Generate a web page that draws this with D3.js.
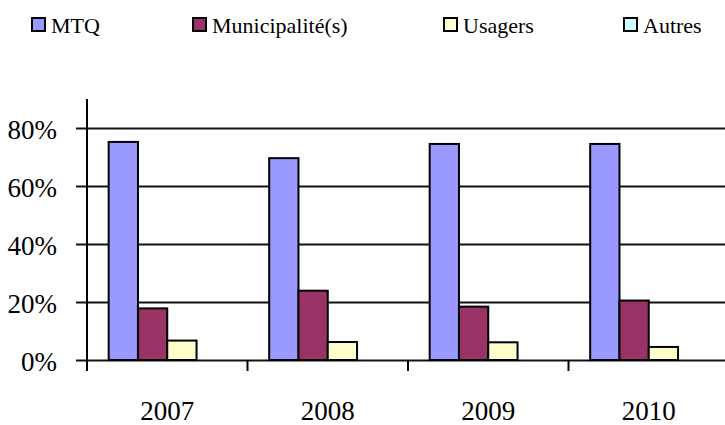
<!DOCTYPE html>
<html>
<head>
<meta charset="utf-8">
<script src="https://cdn.jsdelivr.net/npm/d3@7"></script>
<style>
  html, body { margin: 0; padding: 0; background: #fff; }
  svg { display: block; }
  svg text { font-family: "Liberation Serif", "Times New Roman", serif !important; }
</style>
</head>
<body>
<svg id="chart" width="725" height="425"></svg>
<script>
// Répartition du financement par année
const years = ["2007", "2008", "2009", "2010"];
const seriesNames = ["MTQ", "Municipalité(s)", "Usagers", "Autres"];
const seriesColors = ["#9999FF", "#993366", "#FFFFCC", "#CCFFFF"];
const mtq = [0.752, 0.696, 0.745, 0.745];
const municipalites = [0.178, 0.239, 0.184, 0.205];
const usagers = [0.067, 0.062, 0.061, 0.045];
const autres = [0, 0, 0, 0];
const yTicks = [0, 0.2, 0.4, 0.6, 0.8];
const legendX = [32, 193, 444, 624];

const serif = "'Liberation Serif', 'Times New Roman', serif";
const seriesValues = [mtq, municipalites, usagers, autres];
const rows = years.map((yr, i) => ({
  year: yr,
  values: seriesNames.map((name, s) => ({ name, color: seriesColors[s], value: seriesValues[s][i] }))
}));

const svg = d3.select("#chart");
const plotLeft = 87, plotRight = 729, plotTop = 99, plotBottom = 360;

const x0 = d3.scaleBand().domain(years).range([plotLeft, plotRight]).padding(0);
const x1 = d3.scaleBand().domain(seriesNames).range([0, x0.bandwidth()])
  .paddingInner(0).paddingOuter(0.74);
const y = d3.scaleLinear().domain([0, 0.9]).range([plotBottom, plotTop]);

// Horizontal gridlines with outward tick marks
const yAxis = d3.axisLeft(y).tickValues(yTicks)
  .tickSize(-(725 - plotLeft)).tickSizeOuter(0)
  .tickFormat(d => Math.round(d * 100) + "%");
const gy = svg.append("g").attr("transform", `translate(${plotLeft},0)`).call(yAxis)
  .attr("font-family", null);
gy.select(".domain").remove();
gy.selectAll(".tick line").attr("stroke", "#111").attr("stroke-width", 2);
gy.selectAll(".tick").append("line")
  .attr("x1", -11).attr("x2", 0).attr("stroke", "#111").attr("stroke-width", 2);
gy.selectAll(".tick text")
  .attr("x", -30).attr("dy", "0.4em")
  .attr("fill", "#000")
  .style("font-family", serif).style("font-size", "27px");

// Bars
const groups = svg.append("g").selectAll("g").data(rows).join("g")
  .attr("transform", d => `translate(${x0(d.year)},0)`);
groups.selectAll("rect").data(d => d.values.filter(v => v.value > 0)).join("rect")
  .attr("x", d => x1(d.name))
  .attr("y", d => y(d.value))
  .attr("width", x1.bandwidth())
  .attr("height", d => y(0) - y(d.value))
  .attr("fill", d => d.color)
  .attr("stroke", "#000")
  .attr("stroke-width", 2);

// Vertical axis line
svg.append("line")
  .attr("x1", plotLeft).attr("x2", plotLeft)
  .attr("y1", y(0.9)).attr("y2", plotBottom + 11)
  .attr("stroke", "#000").attr("stroke-width", 2);

// Category axis with tick marks between years
const xAxis = d3.axisBottom(x0).tickSize(0).tickSizeOuter(0);
const gx = svg.append("g").attr("transform", `translate(0,${plotBottom})`).call(xAxis)
  .attr("font-family", null);
gx.select(".domain").remove();
gx.selectAll(".tick text")
  .attr("y", 60).attr("dy", 0)
  .attr("fill", "#000")
  .style("font-family", serif).style("font-size", "27px");
svg.append("g").selectAll("line").data(years).join("line")
  .attr("x1", d => x0(d)).attr("x2", d => x0(d))
  .attr("y1", plotBottom).attr("y2", plotBottom + 11)
  .attr("stroke", "#000").attr("stroke-width", 2);

// Legend
const legend = svg.append("g").selectAll("g").data(seriesNames).join("g")
  .attr("transform", (d, i) => `translate(${legendX[i]},18)`);
legend.append("rect")
  .attr("width", 13).attr("height", 13)
  .attr("fill", (d, i) => seriesColors[i])
  .attr("stroke", "#000").attr("stroke-width", 2);
legend.append("text")
  .attr("x", 19).attr("y", 15)
  .style("font-family", serif).style("font-size", "22px")
  .text(d => d);
</script>
</body>
</html>
